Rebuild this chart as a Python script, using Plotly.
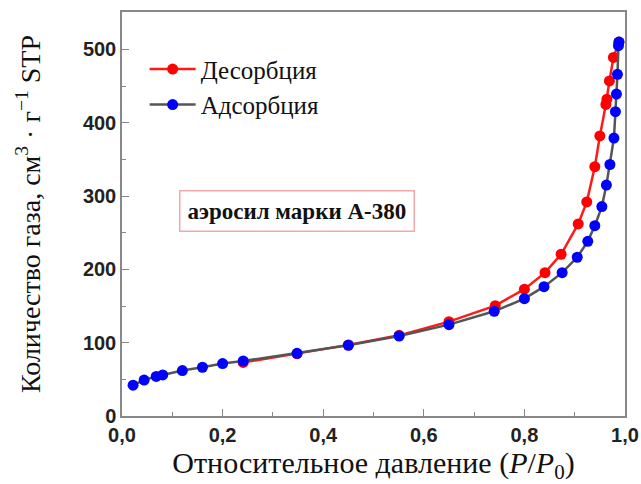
import plotly.graph_objects as go

# Adsorption (blue markers, gray line)
ads_x = [0.022, 0.044, 0.068, 0.081, 0.12, 0.16, 0.20, 0.241, 0.348, 0.45, 0.551, 0.65, 0.74,
         0.80, 0.839, 0.875, 0.905, 0.926, 0.940, 0.954, 0.963, 0.970, 0.978, 0.981, 0.983,
         0.985, 0.987, 0.988]
ads_y = [42, 49, 54, 56, 62, 66.5, 71.5, 75, 85.5, 96.5, 109, 124.6, 142.8,
         160, 176.4, 195.5, 216.5, 238.3, 259.6, 285.6, 315, 343, 379, 415, 439,
         466, 505, 510]

# Desorption (red)
des_x = [0.988, 0.977, 0.969, 0.964, 0.962, 0.950, 0.940, 0.924, 0.907, 0.873, 0.841, 0.80,
         0.742, 0.65, 0.551, 0.45, 0.348, 0.241]
des_y = [510, 489, 457, 432, 425, 382, 340, 292, 262, 220.6, 195.5, 173,
         150.5, 128.7, 110, 97, 85, 73]

x_ticks = [0, 0.2, 0.4, 0.6, 0.8, 1.0]
x_ticktext = ["0,0", "0,2", "0,4", "0,6", "0,8", "1,0"]
y_ticks = [0, 100, 200, 300, 400, 500]

fig = go.Figure()
fig.add_trace(go.Scatter(x=des_x, y=des_y, mode="lines+markers", name="Десорбция",
                         line=dict(color="#ff1a1a", width=2.5),
                         marker=dict(color="#ff0000", size=11)))
fig.add_trace(go.Scatter(x=ads_x, y=ads_y, mode="lines+markers", name="Адсорбция",
                         line=dict(color="#555555", width=2.5),
                         marker=dict(color="#0000ff", size=11)))

axis_common = dict(showline=True, linecolor="#888888", linewidth=1.5, mirror=True,
                   showgrid=False, zeroline=False, ticks="inside", ticklen=7,
                   tickcolor="#888888", automargin=False,
                   tickfont=dict(family="Liberation Sans, Arial", size=20, color="#222222",
                                 weight="bold"))

fig.update_layout(
    width=641, height=484,
    margin=dict(l=122, r=16, t=12, b=68),
    paper_bgcolor="white", plot_bgcolor="white",
    showlegend=True,
    legend=dict(x=0.045, y=0.915, xanchor="left", yanchor="top",
                bgcolor="rgba(255,255,255,0)", borderwidth=0,
                font=dict(family="Liberation Serif, Times New Roman", size=25, color="#111111"),
                itemwidth=46, tracegroupgap=4),
    xaxis=dict(range=[0, 1.0], tickvals=x_ticks, ticktext=x_ticktext,
               minor=dict(ticks="inside", ticklen=4, dtick=0.1, tickcolor="#888888"),
               title=dict(text="Относительное давление (<i>P</i>/<i>P</i><sub>0</sub>)",
                          font=dict(family="Liberation Serif, Times New Roman", size=30, color="#111111"),
                          standoff=5),
               **axis_common),
    yaxis=dict(range=[0, 551], tickvals=y_ticks,
               minor=dict(ticks="inside", ticklen=4, dtick=50, tickcolor="#888888"),
               title=dict(text="Количество газа, см<sup>3</sup> · г<sup>−1</sup> STP",
                          font=dict(family="Liberation Serif, Times New Roman", size=28, color="#111111"),
                          standoff=34),
               **axis_common),
)

fig.add_annotation(x=0.347, y=0.508, xref="paper", yref="paper",
                   text="<b>аэросил марки А-380</b>", showarrow=False,
                   font=dict(family="Liberation Serif, Times New Roman", size=23, color="#111111"),
                   bordercolor="#f0a8a8", borderwidth=1.5, borderpad=7, bgcolor="white")

fig.write_html("out.html")
